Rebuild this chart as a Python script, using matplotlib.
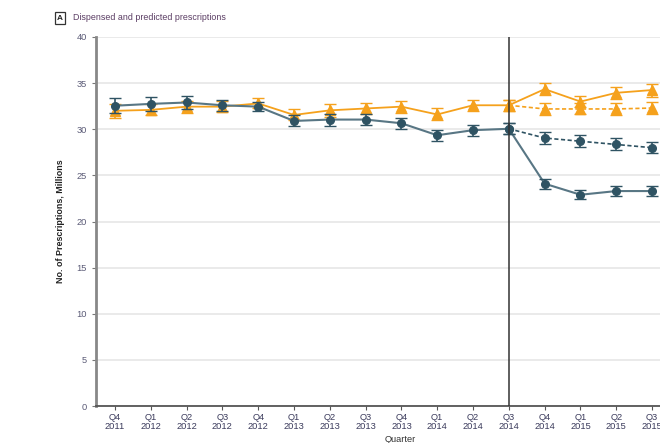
import matplotlib
matplotlib.use('Agg')
import matplotlib.pyplot as plt
from matplotlib import font_manager

names = sorted(set(f.name for f in font_manager.fontManager.ttflist))
narrow = 'Liberation Sans Narrow' in names
if narrow:
    plt.rcParams['font.family'] = ['Liberation Sans Narrow', 'DejaVu Sans']
    k = 1.0
else:
    plt.rcParams['font.family'] = ['Liberation Sans', 'DejaVu Sans']
    k = 0.85

quarters = ['Q4\n2011', 'Q1\n2012', 'Q2\n2012', 'Q3\n2012', 'Q4\n2012', 'Q1\n2013', 'Q2\n2013', 'Q3\n2013',
            'Q4\n2013', 'Q1\n2014', 'Q2\n2014', 'Q3\n2014', 'Q4\n2014', 'Q1\n2015', 'Q2\n2015', 'Q3\n2015']

# observed (dispensed) series
dark_obs = [32.55, 32.75, 32.9, 32.6, 32.45, 30.9, 31.05, 31.05, 30.65, 29.35, 29.9, 30.05, 24.1, 22.9, 23.3, 23.3]
dark_err = [0.8, 0.75, 0.7, 0.6, 0.5, 0.6, 0.65, 0.6, 0.6, 0.6, 0.6, 0.6, 0.55, 0.5, 0.5, 0.5]
orange_obs = [32.0, 32.1, 32.45, 32.45, 32.8, 31.55, 32.05, 32.25, 32.45, 31.6, 32.6, 32.6, 34.35, 33.0, 33.95, 34.25]
orange_err = [0.75, 0.6, 0.65, 0.6, 0.55, 0.6, 0.7, 0.6, 0.65, 0.65, 0.6, 0.6, 0.65, 0.6, 0.65, 0.7]

# predicted series (from Q3 2014 onwards)
pred_idx = [11, 12, 13, 14, 15]
dark_pred = [30.05, 29.05, 28.7, 28.35, 28.0]
dark_pred_err = [0.6, 0.6, 0.65, 0.65, 0.6]
orange_pred = [32.6, 32.2, 32.2, 32.2, 32.3]
orange_pred_err = [0.6, 0.65, 0.6, 0.65, 0.65]

dark = '#2f5363'
dark_line = '#587684'
orange = '#f5a11c'

fig = plt.figure(figsize=(6.6, 4.43), dpi=100)
ax = fig.add_axes([96 / 660, 37 / 443, 608 / 660, 369 / 443])

x = list(range(len(quarters)))

ax.errorbar(pred_idx, orange_pred, yerr=orange_pred_err, color=orange, ls=(0, (2.5, 1.5)), lw=1.2,
            marker='^', ms=6.5, capsize=4, elinewidth=1.2, ecolor=orange, zorder=3)
ax.errorbar(x, orange_obs, yerr=orange_err, color=orange, lw=1.3, marker='^', ms=6.5,
            capsize=4, elinewidth=1.2, ecolor=orange, zorder=3)
ax.errorbar(pred_idx, dark_pred, yerr=dark_pred_err, color=dark, ls=(0, (2.5, 1.5)), lw=1.2,
            marker='o', ms=5.5, capsize=4, elinewidth=1.2, ecolor=dark, zorder=4)
ax.plot(x, dark_obs, color=dark_line, lw=1.5, zorder=4)
ax.errorbar(x, dark_obs, yerr=dark_err, color=dark, lw=0, marker='o', ms=5.5,
            capsize=4, elinewidth=1.2, ecolor=dark, zorder=5)

ax.axvline(11, color='#333333', lw=1.1, zorder=6)

ax.set_xlim(-0.53, 16.45)
ax.set_ylim(0, 40)
ax.set_yticks(range(0, 41, 5))
ax.set_xticks(x)
ax.set_xticklabels(quarters, fontsize=7.8 * k, color='#3b3b5c', linespacing=0.95)
ax.tick_params(axis='y', labelsize=7.8 * k, labelcolor='#5b5b77', length=3, color='#777777')
ax.tick_params(axis='x', length=3, color='#555555', pad=2)
ax.grid(axis='y', color='#e6e6e6', lw=1.2)
ax.set_axisbelow(True)
for s in ['top', 'right']:
    ax.spines[s].set_visible(False)
ax.spines['left'].set_color('#888888')
ax.spines['left'].set_linewidth(2)
ax.spines['bottom'].set_color('#555555')
ax.spines['bottom'].set_linewidth(1.3)

ax.set_ylabel('No. of Prescriptions, Millions', fontsize=7.5 * k, fontweight='bold', color='#222222', labelpad=8)
ax.set_xlabel('Quarter', fontsize=7.8 * k, color='#333333', labelpad=3)

fig.text(60 / 660, 1 - 18 / 443, 'A', fontsize=7 * k, fontweight='bold', color='#222222', va='center', ha='center',
         bbox=dict(boxstyle='square,pad=0.3', fc='white', ec='#333333', lw=0.9))
fig.text(73 / 660, 1 - 18 / 443, 'Dispensed and predicted prescriptions', fontsize=7.5 * k, color='#5a3c63', va='center')

fig.savefig('out.png', dpi=100)
